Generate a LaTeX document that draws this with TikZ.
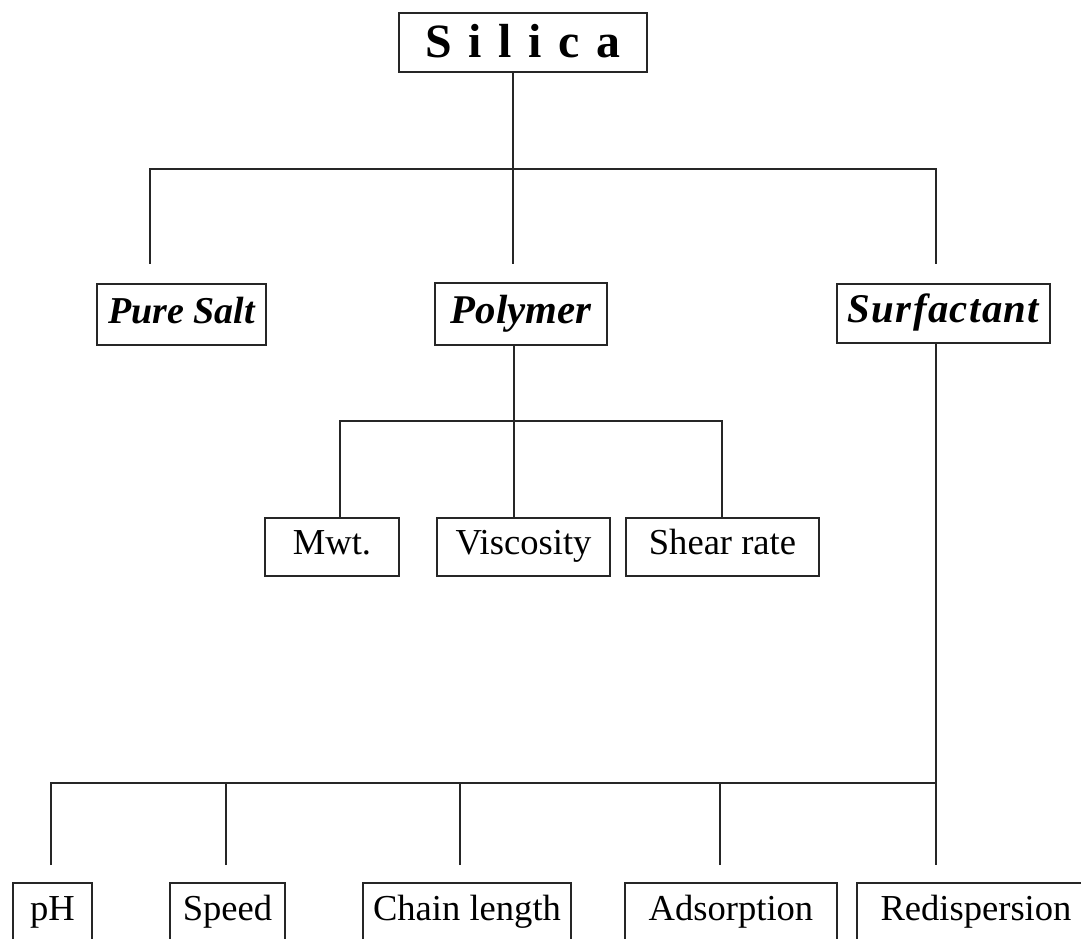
\documentclass[tikz,border=0pt]{standalone}
\usepackage{fontspec}
\setmainfont{Liberation Serif}

\def\px{0.025cm}
\newcommand{\gapsp}{\hspace{0.42cm}}

\begin{document}
\begin{tikzpicture}[x=\px, y=-\px,
    box/.style={draw=black!85, line width=1.1pt, inner sep=0pt,
        text height=17pt, text depth=6pt, font=\fontsize{26}{28}\selectfont},
    head/.style={box, text height=20pt, text depth=7pt,
        font=\fontsize{29}{31}\selectfont\bfseries\itshape},
    link/.style={draw=black!85, line width=1.1pt}]

    \useasboundingbox (0,0) rectangle (1081,939);

    % Top
    \node[box, text height=23pt, text depth=1pt, font=\fontsize{34}{36}\selectfont\bfseries,
        minimum width=248*\px, minimum height=59*\px] (silica) at (523,42.5)
        {S\gapsp i\gapsp l\gapsp i\gapsp c\gapsp a};

    % First level
    \node[head, font=\fontsize{27}{29}\selectfont\bfseries\itshape,
        minimum width=169*\px, minimum height=61*\px] (puresalt) at (181.5,314.5) {Pure Salt};
    \node[head, minimum width=172*\px, minimum height=62*\px] (polymer) at (521,314) {Polymer};
    \node[head, minimum width=213*\px, minimum height=59*\px] (surfactant) at (943.5,313.5)
        {S\kern1pt u\kern1pt r\kern1pt f\kern1pt a\kern1pt c\kern1pt t\kern1pt a\kern1pt n\kern1pt t};

    \coordinate (jtop) at (513,169);
    \coordinate (a1) at (150,264);
    \coordinate (a2) at (513,264);
    \coordinate (a3) at (936,264);
    \draw[link] (silica.south -| jtop) -- (jtop);
    \draw[link] (a1) |- (jtop) -| (a3);
    \draw[link] (jtop) -- (a2);

    % Polymer branch
    \node[box, minimum width=134*\px, minimum height=58*\px] (mwt) at (332,547) {Mwt.};
    \node[box, minimum width=173*\px, minimum height=58*\px] (viscosity) at (523.5,547) {Viscosity};
    \node[box, minimum width=193*\px, minimum height=58*\px] (shear) at (722.5,547) {Shear rate};

    \coordinate (jpoly) at (514,421);
    \coordinate (b1) at (340,421);
    \coordinate (b3) at (722,421);
    \draw[link] (polymer.south -| jpoly) -- (jpoly) -- (viscosity.north -| jpoly);
    \draw[link] (mwt.north -| b1) -- (b1) -- (b3) -- (shear.north -| b3);

    % Surfactant branch
    \node[box, minimum width=79*\px, minimum height=60*\px] (ph) at (52.5,913) {pH};
    \node[box, minimum width=115*\px, minimum height=60*\px] (speed) at (227.5,913) {Speed};
    \node[box, minimum width=208*\px, minimum height=60*\px] (chain) at (467,913) {Chain length};
    \node[box, minimum width=212*\px, minimum height=60*\px] (adsorption) at (731,913) {Adsorption};
    \node[box, minimum width=238*\px, minimum height=60*\px] (redisp) at (976,913) {Redispersion};

    \coordinate (jsurf) at (936,783);
    \foreach \x/\n in {51/c1, 226/c2, 460/c3, 720/c4, 936/c5}
        \coordinate (\n) at (\x,865);
    \draw[link] (surfactant.south -| jsurf) -- (c5);
    \foreach \n in {c1, c2, c3, c4}
        \draw[link] (\n) |- (jsurf);

\end{tikzpicture}
\end{document}
